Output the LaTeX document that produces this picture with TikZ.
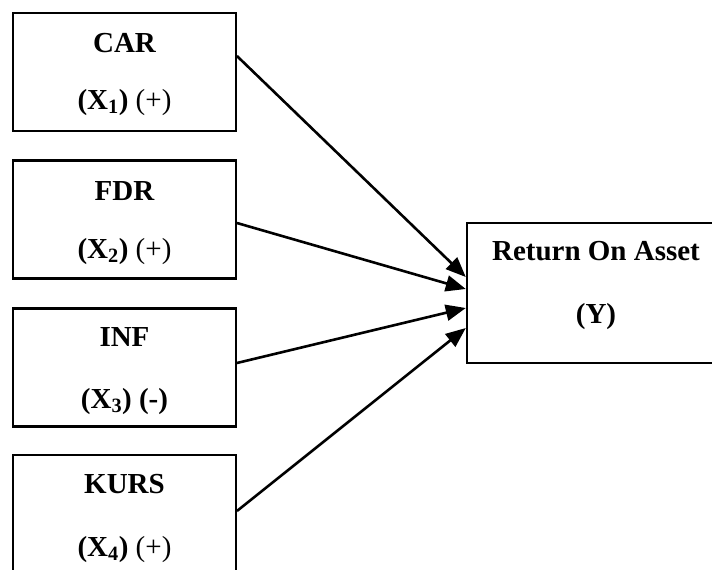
\documentclass[tikz,border=0pt]{standalone}
\usepackage{fontspec}
\setmainfont{Liberation Serif}
\usetikzlibrary{arrows.meta}
\begin{document}
\begin{tikzpicture}[x=1pt,y=-1pt,
  varbox/.style={draw=black,line width=2.4pt,rectangle,inner sep=0pt,
    minimum width=222.5pt,minimum height=118pt},
  depbox/.style={draw=black,line width=2.4pt,rectangle,inner sep=0pt,
    minimum width=258pt,minimum height=140pt},
  lbl/.style={anchor=base,inner sep=0pt,font=\fontsize{29}{34}\selectfont\bfseries},
  link/.style={line width=2.6pt,-{Triangle[length=20pt,width=16pt]}}]
  \useasboundingbox (0,0) rectangle (712,570);
  \clip (0,0) rectangle (712,570);

  % independent variables
  \node[varbox] (car)  at (124.5,72)    {};
  \node[varbox] (fdr)  at (124.5,219.5) {};
  \node[varbox] (inf)  at (124.5,367.5) {};
  \node[varbox] (kurs) at (124.5,514)   {};

  \node[lbl] (cart)  at (124.5,52)  {CAR};
  \node[lbl] (carx)  at (124.5,109) {(X\textsubscript{1}) \mdseries(+)};
  \node[lbl] (fdrt)  at (124.5,200) {FDR};
  \node[lbl] (fdrx)  at (124.5,258) {(X\textsubscript{2}) \mdseries(+)};
  \node[lbl] (inft)  at (124.5,346) {INF};
  \node[lbl] (infx)  at (124.5,408) {(X\textsubscript{3}) (-)};
  \node[lbl] (kurst) at (124.5,493) {KURS};
  \node[lbl] (kursx) at (124.5,556) {(X\textsubscript{4}) \mdseries(+)};

  % dependent variable
  \node[depbox] (roa) at (596,293) {};
  \node[lbl] (roat) at (596,260) {Return On Asset};
  \node[lbl] (roay) at (596,323) {(Y)};

  % effects
  \draw[link] ([yshift=16pt]car.east)   -- ([yshift=16pt]roa.west);
  \draw[link] ([yshift=-3.5pt]fdr.east) -- ([yshift=4pt]roa.west);
  \draw[link] ([yshift=4.5pt]inf.east)  -- ([yshift=-15pt]roa.west);
  \draw[link] ([yshift=3pt]kurs.east)   -- ([yshift=-35pt]roa.west);
\end{tikzpicture}
\end{document}
